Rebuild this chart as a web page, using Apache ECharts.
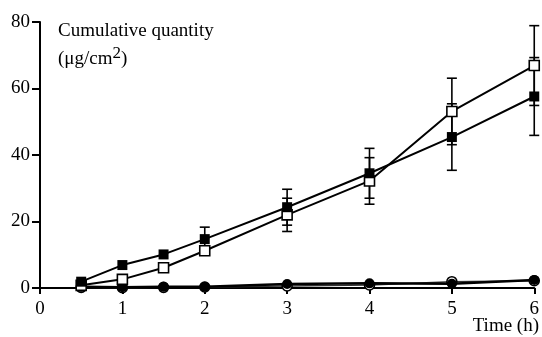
<!DOCTYPE html>
<html>
<head>
<meta charset="utf-8">
<script src="https://cdn.jsdelivr.net/npm/echarts@6/dist/echarts.min.js"></script>
<style>
html,body{margin:0;padding:0;background:#fff;}
#chart{width:542px;height:337px;}
</style>
</head>
<body>
<div id="chart"></div>
<script>
// Time points (h)
const times = [0.5, 1, 1.5, 2, 3, 4, 5, 6];
// Filled squares
const filledSquare = [1.9, 6.9, 10.1, 14.7, 24.3, 34.5, 45.4, 57.6];
const filledSquareErr = [0, 0, 0, 3.6, 5.4, 7.5, 10.0, 11.7];
// Open squares
const openSquare = [0.8, 2.6, 6.1, 11.2, 22.0, 32.2, 53.1, 66.9];
const openSquareErr = [0, 0, 0, 0, 5.0, 7.0, 10.0, 12.0];
// Filled circles
const filledCircle = [0.4, 0.2, 0.4, 0.4, 1.2, 1.4, 1.3, 2.4];
// Open circles
const openCircle = [0.2, 0.1, 0.2, 0.3, 0.6, 0.9, 1.9, 2.2];
// Axis ticks
const xTickStep = 1, xMin = 0, xMax = 6;
const yTickStep = 20, yMin = 0, yMax = 80;

const FONT = '"Liberation Serif", "Times New Roman", serif';

function pairs(xs, ys) { return xs.map((x, i) => [x, ys[i]]); }
function errData(xs, ys, es) {
  const out = [];
  xs.forEach((x, i) => { if (es[i] > 0) out.push([x, ys[i] - es[i], ys[i] + es[i]]); });
  return out;
}
const errAll = errData(times, filledSquare, filledSquareErr).concat(errData(times, openSquare, openSquareErr));

const chart = echarts.init(document.getElementById('chart'), null, {renderer: 'canvas'});
chart.setOption({
  animation: false,
  backgroundColor: '#fff',
  grid: {left: 40, right: 5, top: 22, bottom: 49, containLabel: false},
  xAxis: {
    type: 'value', min: xMin, max: xMax, interval: xTickStep,
    axisLine: {show: true, onZero: false, lineStyle: {color: '#000', width: 2}},
    axisTick: {show: true, inside: false, length: 6, lineStyle: {color: '#000', width: 2}},
    axisLabel: {color: '#000', fontFamily: FONT, fontSize: 19, margin: 12},
    splitLine: {show: false}
  },
  yAxis: {
    type: 'value', min: yMin, max: yMax, interval: yTickStep,
    axisLine: {show: true, onZero: false, lineStyle: {color: '#000', width: 2}},
    axisTick: {show: true, inside: false, length: 8, lineStyle: {color: '#000', width: 2}},
    axisLabel: {color: '#000', fontFamily: FONT, fontSize: 19, margin: 10},
    splitLine: {show: false}
  },
  series: [
    {
      type: 'custom', z: 1,
      data: errAll,
      encode: {x: 0, y: [1, 2]},
      renderItem: function (params, api) {
        const x = api.value(0), lo = api.value(1), hi = api.value(2);
        const p1 = api.coord([x, lo]), p2 = api.coord([x, hi]);
        const w = 5;
        const st = {stroke: '#000', lineWidth: 1.6};
        return {type: 'group', children: [
          {type: 'line', shape: {x1: p1[0], y1: p1[1], x2: p2[0], y2: p2[1]}, style: st},
          {type: 'line', shape: {x1: p1[0] - w, y1: p1[1], x2: p1[0] + w, y2: p1[1]}, style: st},
          {type: 'line', shape: {x1: p2[0] - w, y1: p2[1], x2: p2[0] + w, y2: p2[1]}, style: st}
        ]};
      }
    },
    {
      type: 'line', z: 3, data: pairs(times, openCircle),
      symbol: 'circle', symbolSize: 10, showAllSymbol: true,
      lineStyle: {color: '#333', width: 1.5},
      itemStyle: {color: '#fff', borderColor: '#000', borderWidth: 1.6}
    },
    {
      type: 'line', z: 4, data: pairs(times, filledCircle),
      symbol: 'circle', symbolSize: 10, showAllSymbol: true,
      lineStyle: {color: '#000', width: 2.5},
      itemStyle: {color: '#000', borderColor: '#000', borderWidth: 0}
    },
    {
      type: 'line', z: 5, data: pairs(times, openSquare),
      symbol: 'rect', symbolSize: 10, showAllSymbol: true,
      lineStyle: {color: '#000', width: 2},
      itemStyle: {color: '#fff', borderColor: '#000', borderWidth: 1.6}
    },
    {
      type: 'line', z: 6, data: pairs(times, filledSquare),
      symbol: 'rect', symbolSize: 10, showAllSymbol: true,
      lineStyle: {color: '#000', width: 2},
      itemStyle: {color: '#000', borderColor: '#000', borderWidth: 0}
    }
  ],
  graphic: [
    {
      type: 'text', left: 58, top: 22, z: 10,
      style: {text: 'Cumulative quantity', fill: '#000', font: '19px ' + FONT}
    },
    {
      type: 'text', left: 58, top: 45, z: 10,
      style: {
        text: '{a|(μg/cm}{s|2}{a|)}',
        fill: '#000',
        rich: {
          a: {fontFamily: FONT, fontSize: 19, lineHeight: 24, verticalAlign: 'bottom', fill: '#000'},
          s: {fontFamily: FONT, fontSize: 17, lineHeight: 17, verticalAlign: 'top', fill: '#000'}
        }
      }
    },
    {
      type: 'text', right: 3, top: 317, z: 10,
      style: {text: 'Time (h)', fill: '#000', font: '19px ' + FONT}
    }
  ]
});
</script>
</body>
</html>
